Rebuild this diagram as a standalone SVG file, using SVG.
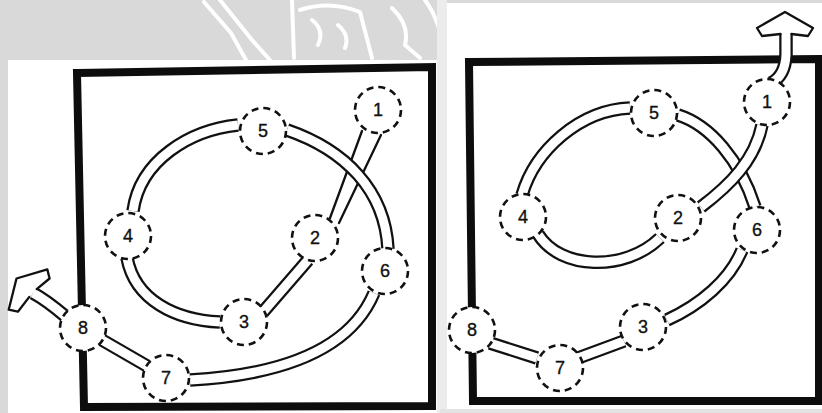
<svg xmlns="http://www.w3.org/2000/svg" xmlns:xlink="http://www.w3.org/1999/xlink" width="822" height="413" viewBox="0 0 822 413">
<style>
.bg{fill:#d9d9d9}
.paper{fill:#ffffff}
.wm{fill:none;stroke:#ffffff;stroke-width:4;stroke-linecap:round;stroke-linejoin:round}
.frame{fill:none;stroke:#0d0d0d;stroke-width:8;stroke-linejoin:miter}
.to{fill:none;stroke:#111111;stroke-width:13.5}
.ti{fill:none;stroke:#ffffff;stroke-width:9}
.side{fill:none;stroke:#111111;stroke-width:2.3;stroke-linecap:round}
.head{fill:#ffffff;stroke:#111111;stroke-width:2.3;stroke-linejoin:round;stroke-linecap:round}
.node circle{fill:#ffffff;stroke:#111111;stroke-width:2.6;stroke-dasharray:7 5}
.node text{font-family:"Liberation Sans",Arial,sans-serif;font-size:18px;text-anchor:middle;fill:#111111;stroke:#111111;stroke-width:0.35}
</style>
<defs>
<path id="L54" d="M238,125 C190,130 140,160 133,211"/>
<path id="L43" d="M127,258 C135,300 175,320 220,322"/>
<path id="L32" d="M263,312 L308,260"/>
<path id="L56" d="M287,130 C345,150 385,190 388,249"/>
<path id="L67" d="M374,293 C350,350 280,375 190,380"/>
<path id="L78" d="M147,366 L102,340"/>
<path id="L8a" d="M65,316 Q46,300 33,293"/>
<path id="R54" d="M630,108 C580,110 535,150 522,195"/>
<path id="R42" d="M538,234 C560,270 625,272 660,238"/>
<path id="R56" d="M678,115 C710,125 740,160 755,207"/>
<path id="R12" d="M762,125 C755,160 730,185 701,207"/>
<path id="R63" d="M742,250 C730,280 700,305 667,320"/>
<path id="R37" d="M624,341 L578,358"/>
<path id="R78" d="M537,358 L490,343"/>
<path id="R1a" d="M771,83 Q785,76 786,55 L786,34"/>
</defs>

<rect class="bg" x="0" y="0" width="822" height="413"/>
<g id="watermark">
<path class="wm" d="M204,2 L231,33 L246,60"/>
<path class="wm" d="M220,0 L252,40 L270,60"/>
<path class="wm" d="M292,0 L294,58 M300,10 Q330,0 360,12 L372,58 M312,20 Q325,30 318,45 M338,25 Q350,35 345,48"/>
<path class="wm" d="M392,8 Q410,25 405,45 L420,58 M425,0 Q440,20 446,58"/>
</g>
<rect class="paper" x="8" y="60" width="429" height="353"/>
<rect x="437" y="0" width="10" height="413" fill="#ececec"/>
<rect class="paper" x="447" y="3" width="375" height="410"/>
<rect x="440" y="409" width="382" height="4" fill="#e2e2e2"/>

<g id="frames">
<path class="frame" d="M77,73 L432,67 L432,406 L84,407 Z"/>
<path class="frame" d="M469,62 L819,59 L819,401 L473,401 Z"/>
</g>

<g id="connectors">
<!-- left panel -->
<polygon points="362,131 381,135 339,223 330,218" fill="#ffffff"/>
<path class="side" d="M362,131 L330,218 M381,135 L339,223"/>
<use xlink:href="#L56" class="to"/><use xlink:href="#L56" class="ti"/>
<use xlink:href="#L54" class="to"/><use xlink:href="#L54" class="ti"/>
<use xlink:href="#L43" class="to"/><use xlink:href="#L43" class="ti"/>
<use xlink:href="#L32" class="to"/><use xlink:href="#L32" class="ti"/>
<use xlink:href="#L67" class="to"/><use xlink:href="#L67" class="ti"/>
<use xlink:href="#L78" class="to"/><use xlink:href="#L78" class="ti"/>
<use xlink:href="#L8a" class="to"/><use xlink:href="#L8a" class="ti"/>
<path class="head" d="M36.7,289.1 L49.6,278.5 L47.3,269.4 L16.5,278.5 L8.7,309.7 L17.9,311.7 L29.3,296.9"/>
<!-- right panel -->
<use xlink:href="#R56" class="to"/><use xlink:href="#R56" class="ti"/>
<use xlink:href="#R12" class="to"/><use xlink:href="#R12" class="ti"/>
<use xlink:href="#R54" class="to"/><use xlink:href="#R54" class="ti"/>
<use xlink:href="#R42" class="to"/><use xlink:href="#R42" class="ti"/>
<use xlink:href="#R63" class="to"/><use xlink:href="#R63" class="ti"/>
<use xlink:href="#R37" class="to"/><use xlink:href="#R37" class="ti"/>
<use xlink:href="#R78" class="to"/><use xlink:href="#R78" class="ti"/>
<use xlink:href="#R1a" class="to"/><use xlink:href="#R1a" class="ti"/>
<path class="head" d="M780.6,34 L762,36 L757,28 L785,12 L813,28 L808,36 L791.4,34"/>
</g>

<g id="nodeL1" class="node"><circle cx="378" cy="110" r="23"/><text x="378" y="116">1</text></g>
<g id="nodeL2" class="node"><circle cx="315" cy="238" r="23"/><text x="315" y="244">2</text></g>
<g id="nodeL3" class="node"><circle cx="244" cy="322" r="23"/><text x="244" y="328">3</text></g>
<g id="nodeL4" class="node"><circle cx="128" cy="236" r="23"/><text x="128" y="242">4</text></g>
<g id="nodeL5" class="node"><circle cx="263" cy="131" r="23"/><text x="263" y="137">5</text></g>
<g id="nodeL6" class="node"><circle cx="385" cy="271" r="23"/><text x="385" y="277">6</text></g>
<g id="nodeL7" class="node"><circle cx="166" cy="378" r="23"/><text x="166" y="384">7</text></g>
<g id="nodeL8" class="node"><circle cx="83" cy="328" r="23"/><text x="83" y="334">8</text></g>

<g id="nodeR1" class="node"><circle cx="767" cy="102" r="23"/><text x="767" y="108">1</text></g>
<g id="nodeR2" class="node"><circle cx="678" cy="218" r="23"/><text x="678" y="224">2</text></g>
<g id="nodeR3" class="node"><circle cx="643" cy="327" r="23"/><text x="643" y="333">3</text></g>
<g id="nodeR4" class="node"><circle cx="523" cy="217" r="23"/><text x="523" y="223">4</text></g>
<g id="nodeR5" class="node"><circle cx="654" cy="113" r="23"/><text x="654" y="119">5</text></g>
<g id="nodeR6" class="node"><circle cx="757" cy="230" r="23"/><text x="757" y="236">6</text></g>
<g id="nodeR7" class="node"><circle cx="560" cy="368" r="23"/><text x="560" y="374">7</text></g>
<g id="nodeR8" class="node"><circle cx="472" cy="330" r="23"/><text x="472" y="336">8</text></g>
</svg>
